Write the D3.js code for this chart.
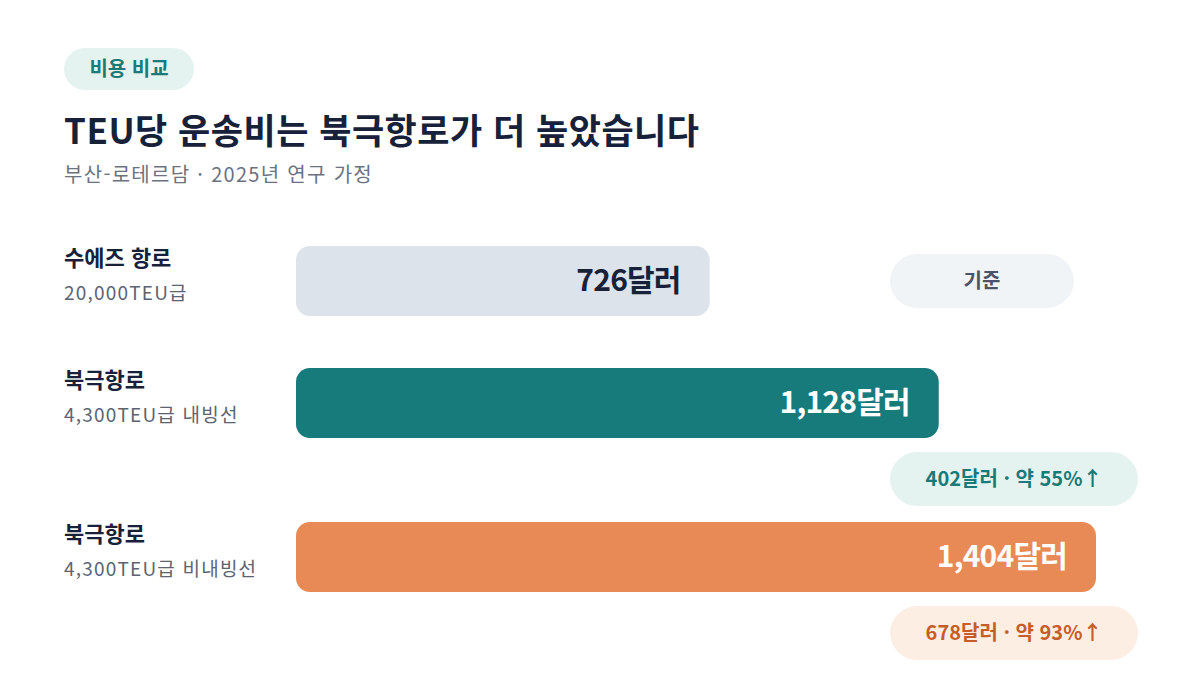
<!DOCTYPE html>
<html lang="ko">
<head>
    <meta charset="utf8">
    <title>TEU당 운송비 비교</title>
    <script src="https://d3js.org/d3.v7.min.js"></script>
    <style>
        body { margin: 0; background: #fff; }
        svg { display: block; font-family: "Noto Sans CJK KR", "Noto Sans", sans-serif; }
    </style>
</head>
<body>
    <svg id="chart" width="1200" height="675"></svg>
    <script>
        // data
        const routes = ["수에즈 항로", "북극항로", "북극항로"];
        const vessels = ["20,000TEU급", "4,300TEU급 내빙선", "4,300TEU급 비내빙선"];
        const costs = [726, 1128, 1404];
        const notes = ["기준", "402달러 · 약 55%↑", "678달러 · 약 93%↑"];

        const barColors = ["#dde3ea", "#177b7c", "#e88a56"];
        const valueColors = ["#18213a", "#ffffff", "#ffffff"];
        const noteFill = ["#f1f4f7", "#e5f3f0", "#fdeee4"];
        const noteText = ["#4a5466", "#1a7a78", "#c65d28"];

        const svg = d3.select("#chart");

        // header
        svg.append("rect").attr("x", 64).attr("y", 48).attr("width", 130).attr("height", 42)
           .attr("rx", 21).attr("fill", "#e5f3f0");
        svg.append("text").attr("x", 129).attr("y", 76).attr("text-anchor", "middle")
           .attr("font-size", 20).attr("font-weight", 700).attr("fill", "#1a7a78").text("비용 비교");
        svg.append("text").attr("x", 64).attr("y", 144)
           .attr("font-size", 35).attr("font-weight", 700).attr("fill", "#18213a")
           .attr("letter-spacing", 0.5)
           .text("TEU당 운송비는 북극항로가 더 높았습니다");
        svg.append("text").attr("x", 64).attr("y", 182)
           .attr("font-size", 20).attr("letter-spacing", 1.3).attr("fill", "#6b7280")
           .text("부산-로테르담 · 2025년 연구 가정");

        const x = d3.scaleLinear().domain([0, d3.max(costs)]).range([296, 1096]);
        const rowTop = d3.scaleOrdinal().domain([0, 1, 2]).range([246, 368, 522]);
        const barH = 70;

        const rows = svg.selectAll("g.row").data(costs).enter().append("g")
            .attr("class", "row")
            .attr("transform", (d, i) => `translate(0,${rowTop(i)})`);

        rows.append("text").attr("x", 64).attr("y", 20)
            .attr("font-size", 22).attr("font-weight", 700).attr("fill", "#18213a")
            .text((d, i) => routes[i]);
        rows.append("text").attr("x", 64).attr("y", 54)
            .attr("font-size", 19).attr("letter-spacing", 1.2).attr("fill", "#5b6472")
            .text((d, i) => vessels[i]);

        rows.append("rect").attr("x", x(0)).attr("y", 0)
            .attr("width", d => x(d) - x(0)).attr("height", barH)
            .attr("rx", 14).attr("fill", (d, i) => barColors[i]);

        rows.append("text").attr("x", d => x(d) - 29).attr("y", 45)
            .attr("text-anchor", "end").attr("font-size", 30).attr("font-weight", 700)
            .attr("letter-spacing", -0.8)
            .attr("fill", (d, i) => valueColors[i])
            .text(d => d3.format(",")(d) + "달러");

        // note pills
        const pillX = 890;
        const pillY = i => i === 0 ? 8 : barH + 14;
        const pillW = i => i === 0 ? 184 : 248;
        rows.append("rect").attr("x", pillX).attr("y", (d, i) => pillY(i))
            .attr("width", (d, i) => pillW(i)).attr("height", 54).attr("rx", 27)
            .attr("fill", (d, i) => noteFill[i]);
        rows.append("text").attr("x", (d, i) => pillX + pillW(i) / 2).attr("y", (d, i) => pillY(i) + 34)
            .attr("text-anchor", "middle").attr("font-size", 20).attr("font-weight", 700)
            .attr("fill", (d, i) => noteText[i])
            .text((d, i) => notes[i]);
    </script>
</body>
</html>
